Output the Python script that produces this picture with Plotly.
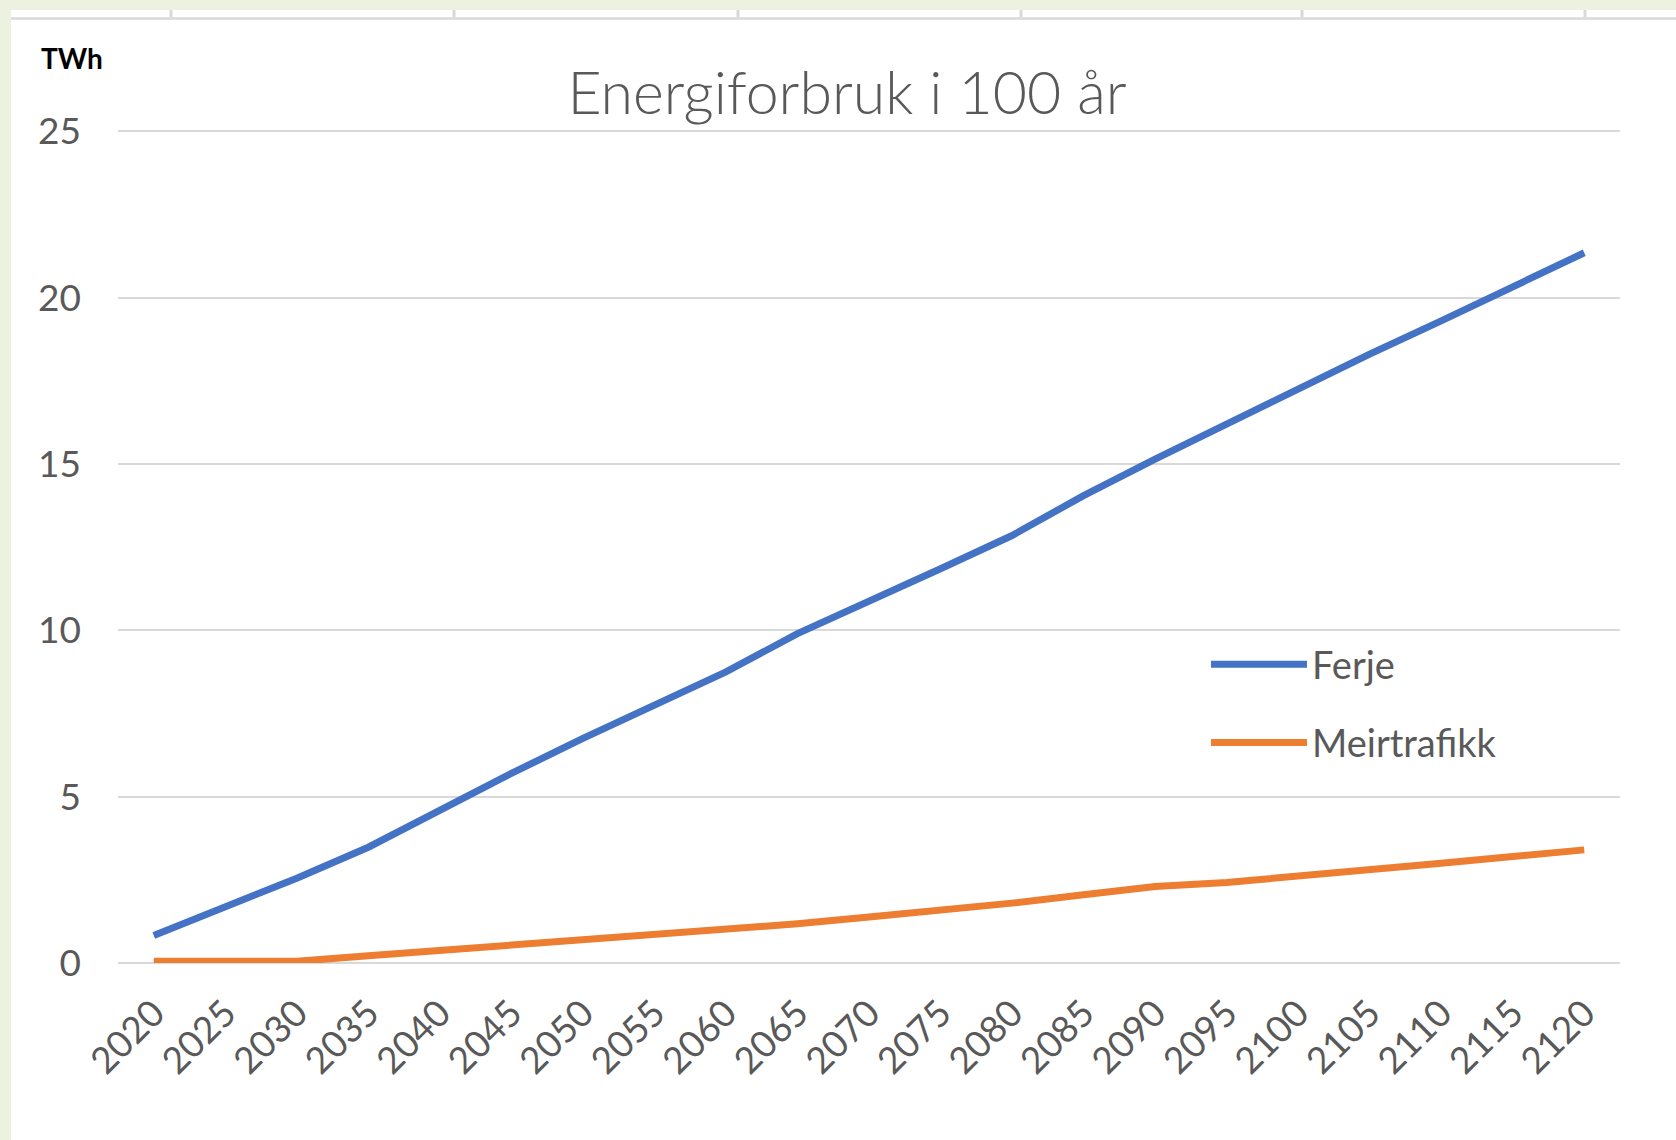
import plotly.graph_objects as go

# ---- data ----
years = [str(y) for y in range(2020, 2121, 5)]
ferje = [0.83, 1.68, 2.55, 3.48, 4.60, 5.70, 6.75, 7.75, 8.75, 9.90, 10.85,
         11.85, 12.85, 14.05, 15.15, 16.20, 17.30, 18.30, 19.30, 20.35, 21.35]
meirtrafikk = [0.05, 0.05, 0.05, 0.22, 0.38, 0.55, 0.72, 0.83, 1.00, 1.18, 1.38,
               1.58, 1.80, 2.05, 2.30, 2.42, 2.60, 2.82, 3.00, 3.20, 3.40]
y_ticks = [0, 5, 10, 15, 20, 25]
series_names = ["Ferje", "Meirtrafikk"]
series_colors = ["#4472C4", "#ED7D31"]

W, H = 1676, 1140
L, R, T, B = 118, 56, 128, 177
PW, PH = W - L - R, H - T - B
YMAX = 25.1


def px(x):
    return (x - L) / PW


def py(y):
    return (H - B - y) / PH


FONT = "Lato"
GREY_TXT = "#595959"
GRID = "#D9D9D9"

fig = go.Figure()
for i, (name, vals) in enumerate(zip(series_names, [ferje, meirtrafikk])):
    fig.add_trace(go.Scatter(
        x=years, y=vals, name=name, mode="lines",
        line=dict(color=series_colors[i], width=7),
        legendgroup=name,
    ))

shapes = [
    # white chart area over the light-green slide background
    dict(type="rect", xref="paper", yref="paper", x0=px(11), x1=px(W + 5),
         y0=py(H + 5), y1=py(10), fillcolor="white", line=dict(width=0), layer="below"),
    # remnants of the chart above (axis line and ticks)
    dict(type="line", xref="paper", yref="paper", x0=px(11), x1=px(W + 5),
         y0=py(18.5), y1=py(18.5), line=dict(color=GRID, width=2.5), layer="below"),
]
for tx in [171, 454, 738, 1021, 1302, 1585]:
    shapes.append(dict(type="line", xref="paper", yref="paper", x0=px(tx), x1=px(tx),
                       y0=py(17), y1=py(10), line=dict(color=GRID, width=3), layer="below"))

fig.update_layout(
    width=W, height=H,
    margin=dict(l=L, r=R, t=T, b=B, pad=0),
    paper_bgcolor="#EDF1DF",
    plot_bgcolor="white",
    font=dict(family=FONT, color=GREY_TXT),
    title=dict(text="Energiforbruk i 100 år", x=847 / W, xref="container", xanchor="center",
               y=1 - 93 / H, yref="container", yanchor="middle",
               font=dict(family=FONT, size=59, color=GREY_TXT, weight=300)),
    xaxis=dict(type="category", range=[-0.5, len(years) - 0.5], tickangle=-45,
               showgrid=False, zeroline=False, showline=False, ticks="",
               tickfont=dict(family=FONT, size=37, color=GREY_TXT),
               ticklabelstandoff=20),
    yaxis=dict(range=[0, YMAX], tickvals=y_ticks, showgrid=True, gridcolor=GRID, gridwidth=2,
               zeroline=True, zerolinecolor=GRID, zerolinewidth=2, showline=False, ticks="",
               tickfont=dict(family=FONT, size=37, color=GREY_TXT),
               ticklabelstandoff=36),
    legend=dict(x=px(1206), y=py(633), xanchor="left", yanchor="top",
                bgcolor="rgba(0,0,0,0)", font=dict(family=FONT, size=38, color=GREY_TXT),
                itemwidth=96, tracegroupgap=26),
    showlegend=True,
    shapes=shapes,
    annotations=[dict(text="<b>TWh</b>", xref="paper", yref="paper", x=px(39), y=py(58),
                      xanchor="left", yanchor="middle", showarrow=False,
                      font=dict(family=FONT, size=28, color="black"))],
)

fig.write_html("out.html", config={"displayModeBar": False},
               post_script="document.body.style.margin='0';")
